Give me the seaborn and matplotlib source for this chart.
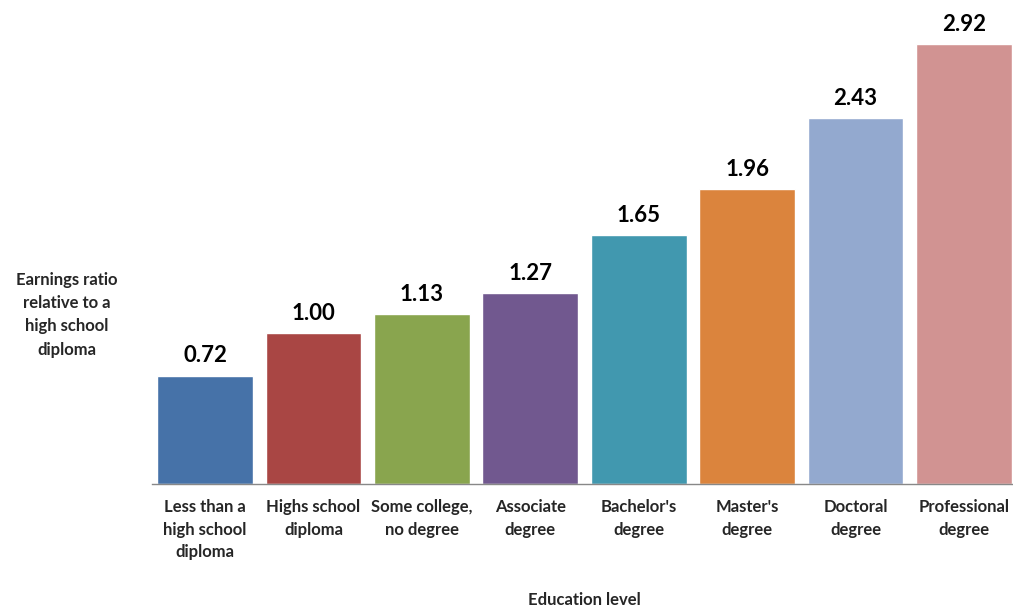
import matplotlib
matplotlib.use("Agg")
import matplotlib.pyplot as plt
import seaborn as sns
import pandas as pd

categories = ["Less than a\nhigh school\ndiploma", "Highs school\ndiploma", "Some college,\nno degree",
              "Associate\ndegree", "Bachelor's\ndegree", "Master's\ndegree", "Doctoral\ndegree",
              "Professional\ndegree"]
values = [0.72, 1.00, 1.13, 1.27, 1.65, 1.96, 2.43, 2.92]
colors = ["#4672A8", "#A94644", "#89A54E", "#71588F", "#4198AF", "#DB843D", "#93A9CF", "#D19392"]

sns.set_theme(style="white")
plt.rcParams['font.family'] = ['Lato', 'DejaVu Sans']

df = pd.DataFrame({"cat": categories, "val": values})
fig = plt.figure(figsize=(10.13, 6.09), dpi=100)
ax = fig.add_axes([0.150, 0.2053, 0.854, 0.7915])
sns.barplot(data=df, x="cat", y="val", hue="cat", palette=colors, legend=False,
            width=0.885, saturation=1, ax=ax)
ax.set_ylim(0, 3.2)
ax.set_xlim(-0.49, 7.49)
for i, v in enumerate(values):
    ax.text(i, v + 0.06, f"{v:.2f}", ha="center", va="bottom", fontsize=16, fontweight="bold", color="black")
ax.set_yticks([])
ax.tick_params(axis="x", length=0, pad=11, labelsize=12)
for lbl in ax.get_xticklabels():
    lbl.set_fontweight("bold")
    lbl.set_linespacing(1.5)
for s in ["top", "right", "left"]:
    ax.spines[s].set_visible(False)
ax.spines["bottom"].set_color("#888888")
ax.spines["bottom"].set_linewidth(1)
ax.set_xlabel("")
ax.set_ylabel("")
fig.text(0.066, 0.483, "Earnings ratio\nrelative to a\nhigh school\ndiploma", ha="center", va="center",
         fontsize=12, fontweight="bold", linespacing=1.55)
fig.text(0.577, 0.015, "Education level", ha="center", va="center", fontsize=12, fontweight="bold")
fig.savefig("out.png", dpi=100)
